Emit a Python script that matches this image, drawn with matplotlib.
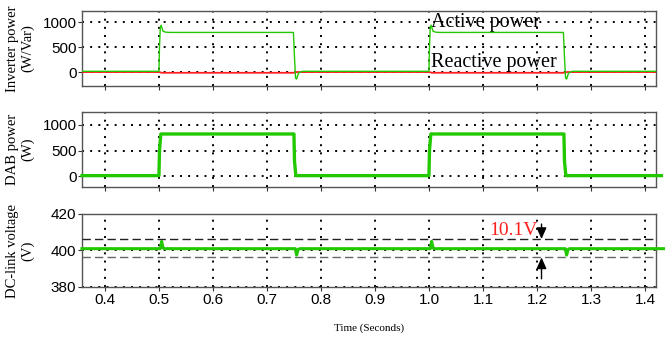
import matplotlib
matplotlib.use("Agg")
import matplotlib.pyplot as plt

# ---- data ----
t_act = [0.357, 0.4995, 0.5005, 0.502, 0.5035, 0.507, 0.512, 0.52, 0.7485, 0.7505, 0.7525, 0.7545, 0.758, 0.765,
         0.9995, 1.0005, 1.002, 1.0035, 1.007, 1.012, 1.02, 1.2485, 1.2505, 1.2525, 1.2545, 1.258, 1.265, 1.42]
p_act = [15, 15, 500, 900, 940, 820, 800, 795, 795, 300, -120, -140, -20, 15,
         15, 500, 900, 940, 820, 800, 795, 795, 300, -120, -140, -20, 15, 15]
t_react = [0.357, 0.5, 0.505, 0.75, 0.755, 1.0, 1.005, 1.25, 1.255, 1.42]
q_react = [0, 0, -15, -15, 0, 0, -15, -15, 0, 0]

t_dab = [0.357, 0.4995, 0.5005, 0.503, 0.7495, 0.7505, 0.753, 0.9995, 1.0005, 1.003, 1.2495, 1.2505, 1.253, 1.43]
p_dab = [15, 15, 500, 820, 820, 300, 15, 15, 500, 820, 820, 300, 15, 15]

t_dc = [0.357, 0.502, 0.5045, 0.507, 0.51, 0.752, 0.7545, 0.757, 0.76, 1.002, 1.0045, 1.007, 1.01,
        1.252, 1.2545, 1.257, 1.26, 1.435]
v_dc = [401, 401, 405, 401.5, 401, 401, 397.5, 400.5, 401, 401, 405, 401.5, 401,
        401, 397.5, 400.5, 401, 401]
v_band = [406.3, 396.2]
band_label = "10.1V"

xticks = [0.4, 0.5, 0.6, 0.7, 0.8, 0.9, 1.0, 1.1, 1.2, 1.3, 1.4]
xticklabels = ["0.4", "0.5", "0.6", "0.7", "0.8", "0.9", "1.0", "1.1", "1.2", "1.3", "1.4"]

GREEN = "#22c800"
RED = "#ff2020"
serif = "Liberation Serif"
sans = "Liberation Sans"

fig = plt.figure(figsize=(6.65, 3.37), dpi=100)
W, H = 665, 337
def box(l, t, r, b):
    return [l / W, 1 - b / H, (r - l) / W, (b - t) / H]

ax1 = fig.add_axes(box(82, 11, 656, 86))
ax2 = fig.add_axes(box(82, 112, 656, 187))
ax3 = fig.add_axes(box(82, 214, 656, 287))

for ax in (ax1, ax2, ax3):
    ax.set_xlim(0.357, 1.42)
    ax.set_xticks(xticks)
    ax.grid(True, color="black", linestyle=(0, (1, 3.2)), linewidth=1.4)
    for s in ax.spines.values():
        s.set_color("#555555")
        s.set_linewidth(1.0)
    ax.tick_params(direction="out", length=3, width=0.8, color="#333333",
                   labelsize=11, pad=1)
    for lab in ax.get_yticklabels():
        lab.set_fontfamily(sans)

ax1.plot(t_react, q_react, color=RED, lw=1.3, zorder=3)
ax1.plot(t_act, p_act, color=GREEN, lw=1.0, zorder=4)
ax1.set_ylim(-280, 1225)
ax1.set_yticks([0, 500, 1000])
ax1.set_xticklabels([])
ax1.text(1.003, 1000, "Active power", fontfamily=serif, fontsize=14.5, va="center", ha="left")
ax1.text(1.003, 200, "Reactive power", fontfamily=serif, fontsize=14.5, va="center", ha="left")
ax1.set_ylabel("Inverter power\n(W/Var)", fontfamily=serif, fontsize=10.5, linespacing=1.15)

ax2.plot(t_dab, p_dab, color=GREEN, lw=2.4, zorder=4, clip_on=False)
ax2.set_ylim(-205, 1245)
ax2.set_yticks([0, 500, 1000])
ax2.set_xticklabels([])
ax2.set_ylabel("DAB power\n(W)", fontfamily=serif, fontsize=10.5, linespacing=1.15)

ax3.plot(t_dc, v_dc, color=GREEN, lw=2.2, zorder=4, clip_on=False)
ax3.axhline(v_band[0], color="#222222", lw=1.0, ls=(0, (6, 3)), zorder=3)
ax3.axhline(v_band[1], color="#666666", lw=1.0, ls=(0, (6, 3)), zorder=3)
ax3.set_ylim(380, 420)
ax3.set_yticks([380, 400, 420])
ax3.set_xticklabels(xticklabels, fontfamily=sans, fontsize=11)
astyle = "-|>,head_length=0.45,head_width=0.2"
ax3.annotate("", xy=(1.208, v_band[0]), xytext=(1.208, 414.5),
             arrowprops=dict(arrowstyle=astyle, color="black", lw=1.0, mutation_scale=15,
                             shrinkA=0, shrinkB=0))
ax3.annotate("", xy=(1.208, v_band[1]), xytext=(1.208, 384.5),
             arrowprops=dict(arrowstyle=astyle, color="black", lw=1.0, mutation_scale=15,
                             shrinkA=0, shrinkB=0))
ax3.text(1.200, 411, band_label, color=RED, fontfamily=serif, fontsize=14, ha="right", va="center")
ax3.set_ylabel("DC-link voltage\n(V)", fontfamily=serif, fontsize=10.5, linespacing=1.15)
ax3.set_xlabel("Time (Seconds)", fontfamily=serif, fontsize=8, labelpad=12)

for ax in (ax1, ax2, ax3):
    ax.yaxis.set_label_coords(-0.083, 0.5)

fig.savefig("out.png", dpi=100)
